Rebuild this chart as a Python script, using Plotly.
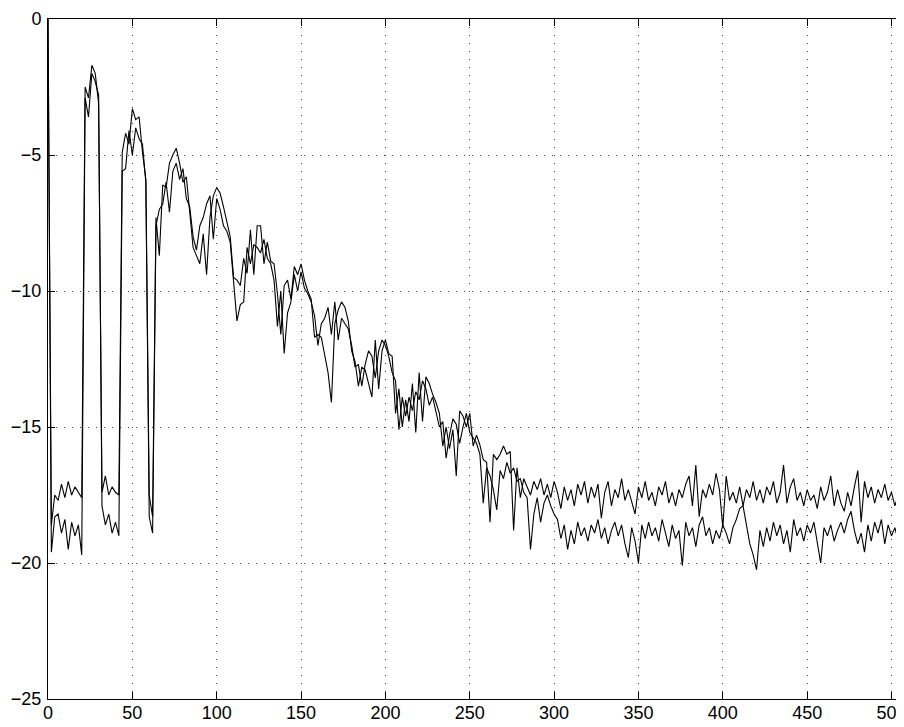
import plotly.graph_objects as go

# frequency bins (every other bin)
freq = list(range(0, 512, 2))

# upper-noise-floor series
series_a = [
    0.0, -18.6, -17.5, -17.7, -17.1, -17.6, -17.0, -17.5, -17.2, -17.4,
    -17.6, -2.5, -2.9, -1.7, -2.0, -3.1, -17.4, -16.8, -17.5, -17.2,
    -17.4, -17.5, -4.9, -4.2, -4.6, -3.3, -3.7, -3.6, -4.9, -5.9,
    -17.5, -18.3, -7.3, -8.7, -6.1, -6.2, -5.3, -5.0, -4.75, -5.3,
    -6.0, -5.8, -7.1, -8.4, -8.7, -9.0, -7.9, -9.4, -7.3, -6.5,
    -6.2, -6.4, -6.9, -7.4, -8.0, -9.5, -9.6, -9.8, -8.8, -9.35,
    -7.75, -9.4, -7.6, -7.6, -9.0, -8.2, -8.9, -9.0, -10.1, -11.6,
    -9.8, -9.6, -10.3, -9.1, -9.4, -9.0, -9.6, -10.0, -10.3, -11.7,
    -11.6, -11.7, -12.35, -13.0, -14.1, -11.2, -10.7, -10.4, -10.6, -11.1,
    -12.2, -12.6, -13.5, -12.8, -12.9, -13.4, -13.9, -11.8, -13.6, -12.2,
    -11.8, -12.3, -12.4, -14.5, -13.6, -15.0, -14.0, -14.8, -13.4, -15.2,
    -13.0, -14.8, -13.15, -13.4, -13.8, -14.1, -14.5, -15.7, -15.0, -15.8,
    -15.1, -16.8, -14.4, -14.6, -15.0, -14.5, -15.7, -15.3, -15.66, -16.2,
    -16.3, -18.5, -16.0, -16.2, -16.0, -15.7, -16.0, -15.9, -18.8, -16.5,
    -17.6, -16.9, -17.2, -17.5, -17.0, -17.3, -16.9, -17.5, -17.1, -17.6,
    -17.0,
    -17.4, -18.0, -17.2, -17.7, -17.3, -17.9, -17.1, -17.5, -17.0, -17.8,
    -17.2, -17.6, -17.1, -18.35, -17.4, -17.0, -17.9, -17.3, -17.6, -16.9,
    -17.7, -17.3, -17.8, -18.2, -17.2, -17.6, -17.0, -17.7, -17.4, -17.9,
    -17.2, -17.5, -17.0, -17.8, -17.4, -17.9, -17.3, -17.6, -17.1, -16.8,
    -17.9, -16.4, -18.3, -17.3, -17.6, -17.1, -17.5, -16.7, -17.3, -18.7,
    -16.8, -17.7, -17.4, -17.8, -17.2, -17.9, -17.3, -17.6, -17.0, -17.7,
    -17.3, -17.8, -17.2, -17.5, -17.0, -17.8, -17.4, -16.4, -17.8, -17.2,
    -16.9, -17.7, -17.4, -17.9, -17.3, -17.7, -17.5, -18.0, -17.2, -17.7,
    -17.4, -16.8, -17.9, -17.3, -17.8, -18.1, -17.4, -17.9, -17.2, -16.6,
    -18.5, -17.0, -17.6, -17.2, -17.8, -17.3, -17.6, -17.1, -17.7, -17.4,
    -17.9, -17.5, -18.2, -18.3, -18.1,
]

# lower-noise-floor series
series_b = [
    0.0, -19.6, -18.3, -18.2, -18.9, -18.4, -19.5, -18.5, -19.0, -18.6,
    -19.7, -2.9, -3.6, -2.0, -2.3, -2.8, -17.9, -18.6, -18.2, -18.9,
    -18.5, -19.0, -5.6, -5.5, -4.1, -5.0, -4.0, -4.4, -4.6, -6.0,
    -18.3, -18.9, -7.6, -7.0, -6.8, -6.0, -7.1, -5.6, -5.3, -5.9,
    -5.5, -6.6, -6.9, -8.0, -8.5, -7.6, -7.3, -6.8, -6.5, -8.1,
    -6.6, -7.0, -7.6, -7.8, -8.2, -9.7, -11.1, -10.5, -10.4, -8.4,
    -9.0, -8.3, -8.4, -8.6, -8.1, -8.8, -9.0, -9.6, -11.3, -10.0,
    -12.3, -10.8, -10.4, -9.4, -10.0, -9.3, -9.9, -10.1, -10.4, -10.9,
    -12.0, -11.2, -11.0, -10.6, -11.6, -10.4, -11.8, -11.0, -11.2, -11.4,
    -12.0, -12.8, -12.7, -13.5, -12.7, -12.2, -12.4, -13.2, -12.2, -11.8,
    -12.0, -12.4, -13.0, -13.3, -15.1, -13.9, -14.6, -13.9, -14.4, -13.7,
    -14.0, -13.3, -13.6, -14.2, -13.9, -14.5, -15.0, -14.8, -16.15, -15.3,
    -14.7, -14.9, -15.6, -15.0, -14.5, -15.2, -15.4, -15.6, -16.0, -17.8,
    -16.5, -16.8, -17.3, -18.05, -16.6, -16.9, -16.3, -16.7, -16.5, -17.0,
    -16.9, -17.4, -17.6, -19.5, -18.2, -17.6, -18.5, -17.8, -17.5, -17.9,
    -18.2,
    -18.4, -19.1, -18.6, -19.5, -18.8, -19.3, -18.5, -19.0, -18.7, -19.2,
    -18.6, -18.9, -18.4, -19.1, -18.7, -19.3, -18.8, -18.5, -19.0, -18.6,
    -19.3, -19.8, -18.7, -19.2, -20.0, -18.6, -19.1, -18.5, -19.0, -18.7,
    -19.2, -18.4, -18.9, -19.4, -18.6, -19.1, -18.8, -20.1, -18.5, -19.0,
    -18.7, -19.4, -18.6, -18.3, -19.0, -18.7, -19.3, -18.8, -19.1, -18.6,
    -18.9, -19.3, -18.7, -18.4, -18.0, -17.9, -18.6, -19.3, -19.7, -20.25,
    -18.8, -19.4, -18.7, -19.2, -18.5, -19.0, -18.6, -19.3, -18.8, -19.6,
    -18.4, -19.0, -18.7, -19.2, -18.6, -18.9, -18.5, -19.3, -20.0, -18.7,
    -19.0, -18.6, -19.2, -18.8, -18.5, -18.9, -18.4, -18.1, -18.8, -19.3,
    -18.9, -19.6, -18.6, -19.2, -18.5, -18.9, -18.4, -19.3, -18.6, -19.0,
    -18.7, -19.2, -18.5, -18.4, -18.3,
]

x_ticks = [0, 50, 100, 150, 200, 250, 300, 350, 400, 450, 500]
y_ticks = [-25, -20, -15, -10, -5, 0]

fig = go.Figure()
for ys in (series_a, series_b):
    fig.add_trace(go.Scatter(x=freq, y=ys, mode="lines",
                             line=dict(color="black", width=1.1),
                             showlegend=False, hoverinfo="skip"))

axis_common = dict(
    showline=True, linecolor="black", linewidth=1,
    ticks="inside", ticklen=7, tickcolor="black", tickwidth=1,
    showgrid=True, gridcolor="#444", gridwidth=1, griddash="1px,7px",
    zeroline=False, tickfont=dict(size=18, color="black"),
    automargin=False,
)

fig.update_xaxes(range=[0, 507.4], tickvals=x_ticks, mirror="ticks",
                 ticklabelstandoff=-3, **axis_common)
fig.update_yaxes(range=[-25, 0], tickvals=y_ticks, mirror=False,
                 ticklabelstandoff=2, **axis_common)

# the page body adds an 8px offset, so margins are shifted to compensate
fig.update_layout(
    width=904, height=727,
    margin=dict(l=40, r=8, t=11, b=36),
    paper_bgcolor="white", plot_bgcolor="white",
    font=dict(family="Liberation Sans, Arial, sans-serif", size=18, color="black"),
)

fig.write_html("out.html")
